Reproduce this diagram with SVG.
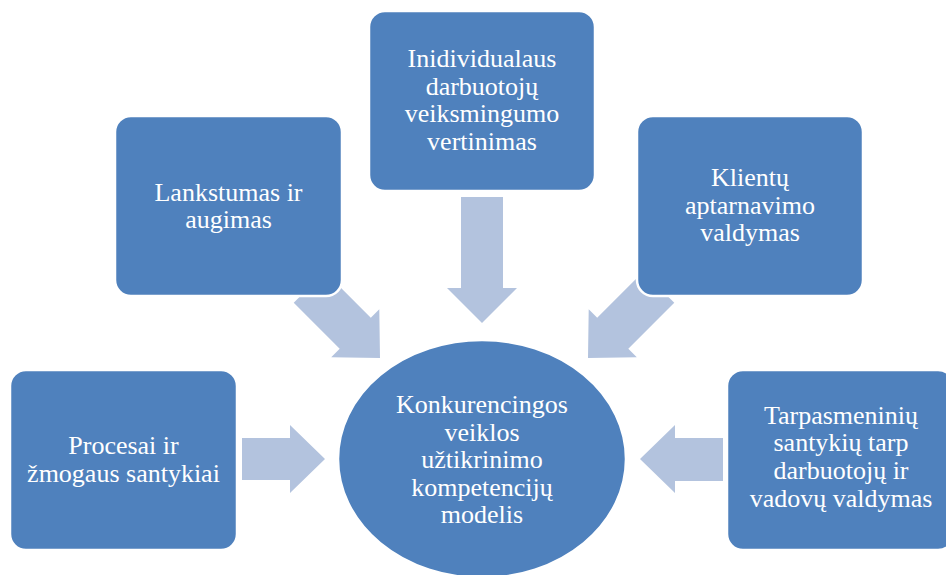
<svg xmlns="http://www.w3.org/2000/svg" width="946" height="575" viewBox="0 0 946 575">
<style>
.box{fill:#4F81BD;stroke:#FFFFFF;stroke-width:2.5}
.arr{fill:#B3C3DE}
.t{font-family:"Liberation Serif","Times New Roman",serif;font-size:26px;fill:#FFFFFF;text-anchor:middle}
</style>
<defs>
<polygon id="diag" points="0,0 -35,-34 -35,-22 -100,-22 -100,22 -35,22 -35,34"/>
</defs>
<rect width="946" height="575" fill="#FFFFFF"/>
<g id="connectors">
<use href="#diag" class="arr" transform="translate(380,358) rotate(45)"/>
<use href="#diag" class="arr" transform="translate(588,358) rotate(135)"/>
<polygon class="arr" points="461,197 503,197 503,288 517,288 482,323 447,288 461,288"/>
<polygon class="arr" points="242,438 290,438 290,425 325,459 290,493 290,480 242,480"/>
<polygon class="arr" points="723,438 675,438 675,425 640,459 675,493 675,481 723,481"/>
</g>
<g id="node-top">
<rect class="box" x="369" y="11" width="226" height="180" rx="16"/>
<text class="t" x="482" y="67">Inidividualaus</text>
<text class="t" x="482" y="94.5">darbuotojų</text>
<text class="t" x="482" y="122">veiksmingumo</text>
<text class="t" x="482" y="149.5">vertinimas</text>
</g>
<g id="node-top-left">
<rect class="box" x="115" y="116" width="227" height="180" rx="16"/>
<text class="t" x="228.5" y="201">Lankstumas ir</text>
<text class="t" x="228.5" y="228">augimas</text>
</g>
<g id="node-top-right">
<rect class="box" x="637" y="116" width="226" height="180" rx="16"/>
<text class="t" x="750" y="186">Klientų</text>
<text class="t" x="750" y="213.5">aptarnavimo</text>
<text class="t" x="750" y="240.5">valdymas</text>
</g>
<g id="node-left">
<rect class="box" x="10" y="370" width="227" height="180" rx="16"/>
<text class="t" x="123.5" y="454">Procesai ir</text>
<text class="t" x="123.5" y="482">žmogaus santykiai</text>
</g>
<g id="node-right">
<rect class="box" x="727" y="370" width="227" height="180" rx="16"/>
<text class="t" x="841" y="423.5">Tarpasmeninių</text>
<text class="t" x="841" y="451">santykių tarp</text>
<text class="t" x="841" y="478.5">darbuotojų ir</text>
<text class="t" x="841" y="506.5">vadovų valdymas</text>
</g>
<g id="node-center">
<ellipse class="box" cx="482" cy="459" rx="144" ry="119"/>
<text class="t" x="482" y="413">Konkurencingos</text>
<text class="t" x="482" y="441">veiklos</text>
<text class="t" x="482" y="468">užtikrinimo</text>
<text class="t" x="482" y="496">kompetencijų</text>
<text class="t" x="482" y="523">modelis</text>
</g>
</svg>
